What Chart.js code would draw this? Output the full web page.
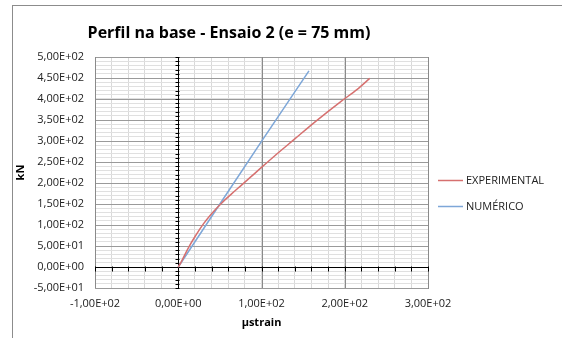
<!DOCTYPE html>
<html>
<head>
<meta charset="utf-8">
<script src="https://cdn.jsdelivr.net/npm/chart.js@4/dist/chart.umd.min.js"></script>
<style>
  html, body { margin: 0; padding: 0; background: #fff; overflow: hidden; }
  #wrap { position: relative; width: 562px; height: 338px; }
  #frame { position: absolute; left: 12px; top: 5px; width: 600px; height: 400px; border: 1px solid #8c8c8c; }
  canvas { position: absolute; left: 0; top: 0; }
</style>
</head>
<body>
<div id="wrap">
  <div id="frame"></div>
  <canvas id="chart1" width="562" height="338"></canvas>
</div>
<script>
'use strict';

const seriesNames = ['EXPERIMENTAL', 'NUMÉRICO'];
const seriesColors = ['#d6706f', '#7ea7d8'];

// µstrain / kN
const expStrain = [0, 3, 12, 20, 30, 40, 52, 64, 76, 92, 116, 140, 164, 196, 215, 230];
const expLoad   = [0, 10, 45, 72, 102, 127, 152, 174, 195, 223, 265, 305, 345, 395, 423, 449];
const numStrain = [0, 50, 100, 157];
const numLoad   = [0, 150, 299, 467];

const xTicks = [-100, 0, 100, 200, 300];
const yTicks = [-50, 0, 50, 100, 150, 200, 250, 300, 350, 400, 450, 500];

const chartTitle = 'Perfil na base - Ensaio 2 (e = 75 mm)';
const FONT = "'Open Sans', sans-serif";

function sci(v) {
    if (v === 0) return '0,00E+00';
    const e = Math.floor(Math.log10(Math.abs(v)));
    const m = (v / Math.pow(10, e)).toFixed(2).replace('.', ',');
    return m + 'E' + (e < 0 ? '-' : '+') + String(Math.abs(e)).padStart(2, '0');
}

function toPoints(xs, ys) {
    return xs.map((x, i) => ({x: x, y: ys[i]}));
}

// major gridlines on top of the minor ones, zero axes, title and legend
const extras = {
    id: 'extras',
    beforeDatasetsDraw(chart) {
        const ctx = chart.ctx;
        const xs = chart.scales.x, ys = chart.scales.y;
        const area = chart.chartArea;
        const px = v => Math.round(xs.getPixelForValue(v)) + 0.5;
        const py = v => Math.round(ys.getPixelForValue(v)) + 0.5;
        ctx.save();
        ctx.lineWidth = 1;

        ctx.strokeStyle = '#9a9a9a';
        ctx.beginPath();
        yTicks.forEach(v => { ctx.moveTo(area.left, py(v)); ctx.lineTo(area.right, py(v)); });
        ctx.stroke();
        ctx.strokeStyle = '#8a8a8a';
        ctx.beginPath();
        xTicks.forEach(v => { ctx.moveTo(px(v), area.top); ctx.lineTo(px(v), area.bottom); });
        ctx.stroke();

        const x0 = px(0), y0 = py(0);
        ctx.strokeStyle = '#000';
        ctx.beginPath();
        ctx.moveTo(x0, area.top);
        ctx.lineTo(x0, area.bottom);
        ctx.moveTo(area.left, y0);
        ctx.lineTo(area.right, y0);
        for (let v = -50; v <= 500; v += 10) {
            ctx.moveTo(x0 - 3, py(v));
            ctx.lineTo(x0 + 1, py(v));
        }
        for (let v = -100; v <= 300; v += 20) {
            ctx.moveTo(px(v), y0 - 1);
            ctx.lineTo(px(v), y0 + 4);
        }
        ctx.stroke();
        ctx.restore();
    },
    afterDraw(chart) {
        const ctx = chart.ctx;
        ctx.save();
        ctx.fillStyle = '#000';
        ctx.font = 'bold 16px ' + FONT;
        ctx.textAlign = 'center';
        ctx.textBaseline = 'middle';
        ctx.fillText(chartTitle, 229, 33);

        ctx.font = '11px ' + FONT;
        ctx.textAlign = 'left';
        chart.data.datasets.forEach((ds, i) => {
            const y = 180 + i * 26 + 0.5;
            ctx.strokeStyle = ds.borderColor;
            ctx.lineWidth = 1.5;
            ctx.beginPath();
            ctx.moveTo(438, y);
            ctx.lineTo(463, y);
            ctx.stroke();
            ctx.fillStyle = '#222';
            ctx.fillText(ds.label, 466, y);
        });
        ctx.restore();
    }
};

const charData1 = {
    type: 'scatter',
    data: {
        datasets: [{
            label: seriesNames[0],
            data: toPoints(expStrain, expLoad),
            borderColor: seriesColors[0],
            backgroundColor: seriesColors[0],
            showLine: true,
            borderWidth: 1.5,
            pointRadius: 0,
            cubicInterpolationMode: 'monotone'
        }, {
            label: seriesNames[1],
            data: toPoints(numStrain, numLoad),
            borderColor: seriesColors[1],
            backgroundColor: seriesColors[1],
            showLine: true,
            borderWidth: 1.5,
            pointRadius: 0
        }]
    },
    options: {
        animation: false,
        responsive: false,
        layout: { padding: { left: 0, right: 134, top: 57, bottom: 0 } },
        plugins: {
            legend: { display: false },
            title: { display: false },
            tooltip: { enabled: false }
        },
        scales: {
            x: {
                type: 'linear',
                min: -100,
                max: 300,
                afterFit: function(scale) { scale.height = 50; },
                afterBuildTicks: function(scale) {
                    const t = [];
                    for (let v = -100; v <= 300; v += 20) t.push({value: v});
                    scale.ticks = t;
                },
                ticks: {
                    autoSkip: false,
                    maxRotation: 0,
                    padding: 9,
                    color: '#222',
                    font: { family: FONT, size: 11 },
                    callback: function(v) { return xTicks.includes(v) ? sci(v) : ''; }
                },
                grid: {
                    drawTicks: false,
                    color: '#d9d9d9'
                },
                border: { color: '#8a8a8a' },
                title: {
                    display: true,
                    text: 'µstrain',
                    color: '#000',
                    font: { family: FONT, size: 11, weight: 'bold' },
                    padding: { top: 0, bottom: 9 }
                }
            },
            y: {
                type: 'linear',
                min: -50,
                max: 500,
                afterFit: function(scale) { scale.width = 95; },
                afterBuildTicks: function(scale) {
                    const t = [];
                    for (let v = -50; v <= 500; v += 10) t.push({value: v});
                    scale.ticks = t;
                },
                ticks: {
                    autoSkip: false,
                    padding: 11,
                    color: '#222',
                    font: { family: FONT, size: 11 },
                    callback: function(v) { return yTicks.includes(v) ? sci(v) : ''; }
                },
                grid: {
                    drawTicks: false,
                    color: '#e0e0e0'
                },
                border: { color: '#8a8a8a' },
                title: {
                    display: true,
                    text: 'kN',
                    color: '#000',
                    font: { family: FONT, size: 11, weight: 'bold' },
                    padding: { top: 14, bottom: 0 }
                }
            }
        }
    },
    plugins: [extras]
};

function createChart(chartId, chartData) {
    return new Chart(document.getElementById(chartId), {
        type: chartData.type,
        data: chartData.data,
        options: chartData.options,
        plugins: chartData.plugins
    });
}

window.onload = function () {
    createChart('chart1', charData1);
};
</script>
</body>
</html>
